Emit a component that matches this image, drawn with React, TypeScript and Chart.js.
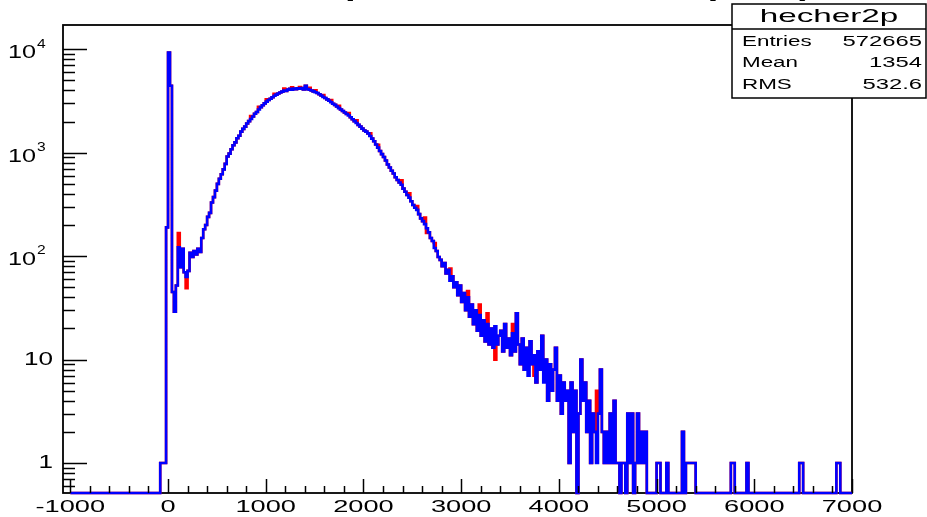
import React, { useEffect, useRef } from "react";
import { Chart, registerables } from "chart.js";

Chart.register(...registerables);

// ---------------- data ----------------
const BIN_START = -100; // first bin of blueCounts
const BIN_WIDTH = 20;
const HIST_LOW = -1000;
const HIST_HIGH = 7000;

// blue histogram (hecher2p), bins of 20 starting at -100
const blueCounts = [
  0, 1, 1, 1, 190, 9300, 4450, 45, 29, 52,
  122, 78, 118, 70, 63, 72, 108, 98, 112, 104,
  118, 110, 150, 182, 200, 240, 262, 330, 372, 430,
  500, 560, 620, 690, 780, 920, 980, 1080, 1180, 1260,
  1380, 1460, 1600, 1700, 1790, 1920, 2020, 2120, 2240, 2380,
  2480, 2620, 2760, 2880, 3000, 3120, 3240, 3330, 3440, 3560,
  3650, 3740, 3820, 3900, 4000, 3960, 4080, 4140, 4060, 4180,
  4120, 4200, 4150, 4230, 4100, 4450, 4120, 4060, 4000, 3920,
  3850, 3780, 3680, 3580, 3460, 3380, 3280, 3180, 3080, 2980,
  2900, 2800, 2700, 2620, 2530, 2450, 2370, 2290, 2200, 2110,
  2020, 1940, 1860, 1790, 1710, 1640, 1600, 1540, 1450, 1370,
  1290, 1200, 1120, 1040, 970, 910, 840, 770, 720, 670,
  630, 580, 545, 515, 490, 450, 420, 390, 368, 340,
  312, 294, 280, 255, 232, 218, 204, 186, 170, 150,
  140, 120, 112, 98, 92, 80, 86, 68, 74, 58,
  64, 50, 56, 42, 52, 36, 44, 30, 40, 26,
  34, 22, 30, 19, 27, 17, 24, 15, 22, 14,
  20, 13, 21, 14, 17, 19, 12, 22, 13, 16,
  11, 18, 12, 28, 14, 9, 16, 8, 13, 7,
  15, 9, 11, 6, 12, 8, 17, 6, 10, 4,
  9, 5, 8, 13, 4, 7, 3, 6, 4, 5,
  1, 6, 2, 5, 0, 3, 10, 4, 6, 2,
  4, 1, 3, 2, 1, 3, 8, 2, 1, 2,
  1, 3, 1, 4, 1, 1, 0, 1, 1, 0,
  3, 1, 3, 0, 1, 3, 1, 2, 1, 2,
  0,
];

// sparse far tail (same for both histograms)
const tailBins = [5000, 5020, 5100, 5260, 5300, 5320, 5340, 5360, 5380, 5760, 5780, 5920, 6460, 6480, 6840, 6860];
const tailCounts = [1, 1, 1, 2, 1, 1, 1, 1, 1, 1, 1, 1, 1, 1, 1, 1];

// red histogram: equal to blue except in these bins
const redBins = [100, 180, 840, 920, 1000, 1080, 1180, 1260, 1340, 1440, 1500, 1580, 1660, 1740, 1840, 1920, 2060, 2140, 2380, 2460, 2540, 2620, 2640, 2720, 2880, 3060, 3180, 3260, 3340, 3520, 3680, 3740, 3840, 4380];
const redCounts = [167, 49, 2260, 2780, 3280, 3720, 4180, 4300, 4320, 4250, 4020, 3620, 3240, 2840, 2420, 2060, 1540, 1190, 540, 405, 305, 236, 168, 134, 76, 46, 34, 28, 10, 22, 13, 7, 9, 5];

// axes
const X_MIN = -1075;
const X_MAX = 7000;
const Y_MIN = 0.513;
const Y_MAX = 17180;
const xTickValues = [-1000, 0, 1000, 2000, 3000, 4000, 5000, 6000, 7000];
const xTickLabels = ["-1000", "0", "1000", "2000", "3000", "4000", "5000", "6000", "7000"];
const X_MINOR_STEP = 200;
const yTickValues = [1, 10, 100, 1000, 10000];
const yTickBase = ["1", "10", "10", "10", "10"];
const yTickExp = ["", "", "2", "3", "4"];

// texts
const titleText = "Amplitude distribution (ADC)";
const statsTitle = "hecher2p";
const statsNames = ["Entries", "Mean", "RMS"];
const statsValues = ["572665", "1354", "532.6"];

// ---------------- helpers ----------------
function buildSteps(overBins: number[] | null, overCounts: number[] | null) {
  const pts: { x: number; y: number }[] = [];
  let last = 0;
  for (let x = HIST_LOW; x < HIST_HIGH; x += BIN_WIDTH) {
    let c = 0;
    const i = Math.round((x - BIN_START) / BIN_WIDTH);
    if (i >= 0 && i < blueCounts.length) c = blueCounts[i];
    const t = tailBins.indexOf(x);
    if (t >= 0) c = tailCounts[t];
    if (overBins && overCounts) {
      const o = overBins.indexOf(x);
      if (o >= 0) c = overCounts[o];
    }
    last = c > 0 ? c : Y_MIN;
    pts.push({ x, y: last });
  }
  pts.push({ x: HIST_HIGH, y: last });
  return pts;
}

const FONT = '"Liberation Sans", Arial, Helvetica, sans-serif';

function sText(
  ctx: CanvasRenderingContext2D,
  text: string,
  x: number,
  y: number,
  size: number,
  sx: number,
  align: "left" | "center" | "right",
  bold = false
) {
  ctx.save();
  ctx.font = `${bold ? "bold " : ""}${size}px ${FONT}`;
  ctx.textBaseline = "middle";
  ctx.textAlign = "left";
  const w = ctx.measureText(text).width * sx;
  const left = align === "center" ? x - w / 2 : align === "right" ? x - w : x;
  ctx.translate(left, y);
  ctx.scale(sx, 1);
  ctx.fillStyle = "#000";
  ctx.fillText(text, 0, 0);
  ctx.restore();
  return w;
}

function seg(ctx: CanvasRenderingContext2D, x1: number, y1: number, x2: number, y2: number) {
  ctx.beginPath();
  ctx.moveTo(x1, y1);
  ctx.lineTo(x2, y2);
  ctx.stroke();
}

const rootPlugin = {
  id: "rootDecor",
  beforeDraw(chart: any) {
    const { ctx, width, height } = chart;
    ctx.save();
    ctx.fillStyle = "#fff";
    ctx.fillRect(0, 0, width, height);
    ctx.restore();
  },
  beforeDatasetsDraw(chart: any) {
    const { ctx, chartArea: a } = chart;
    ctx.save();
    ctx.strokeStyle = "#000";
    ctx.lineWidth = 1.8;
    ctx.strokeRect(a.left, a.top, a.right - a.left, a.bottom - a.top);
    ctx.restore();
  },
  afterDatasetsDraw(chart: any) {
    const { ctx, chartArea: a, scales } = chart;
    const xs = scales.x;
    const ys = scales.y;
    ctx.save();
    ctx.strokeStyle = "#000";
    ctx.lineWidth = 1.5;

    // x ticks
    for (let v = xTickValues[0]; v <= xTickValues[xTickValues.length - 1]; v += X_MINOR_STEP) {
      const px = Math.round(xs.getPixelForValue(v)) + 0.5;
      const major = xTickValues.indexOf(v) >= 0;
      seg(ctx, px, a.bottom, px, a.bottom - (major ? 14 : 7));
    }
    xTickValues.forEach((v, i) => {
      sText(ctx, xTickLabels[i], xs.getPixelForValue(v), 507, 17, 1.6, "center");
    });

    // y ticks (log)
    for (let d = -1; d <= 4; d++) {
      for (let m = 1; m <= 9; m++) {
        const v = m * Math.pow(10, d);
        if (v < Y_MIN || v > Y_MAX) continue;
        const py = Math.round(ys.getPixelForValue(v)) + 0.5;
        seg(ctx, a.left, py, a.left + (m === 1 ? 24 : 12), py);
      }
    }
    yTickValues.forEach((v, i) => {
      const py = ys.getPixelForValue(v);
      if (yTickExp[i] === "") {
        sText(ctx, yTickBase[i], 53, py, 18, 1.45, "right");
      } else {
        sText(ctx, yTickBase[i], 36, py + 4, 18, 1.4, "right");
        sText(ctx, yTickExp[i], 37, py - 5, 12, 1.3, "left");
      }
    });
    ctx.restore();
  },
  afterDraw(chart: any) {
    const { ctx } = chart;
    ctx.save();
    // title (mostly above the visible area)
    ctx.font = `bold 32px ${FONT}`;
    ctx.textBaseline = "alphabetic";
    ctx.textAlign = "left";
    ctx.translate(283, -6);
    ctx.scale(1.2, 1);
    ctx.fillStyle = "#000";
    ctx.fillText(titleText, 0, 0);
    ctx.restore();

    // stats box
    ctx.save();
    const bx = 732, by = 4, bw = 194, bh = 94;
    ctx.fillStyle = "#fff";
    ctx.fillRect(bx, by, bw, bh);
    ctx.strokeStyle = "#000";
    ctx.lineWidth = 1.5;
    ctx.strokeRect(bx, by, bw, bh);
    seg(ctx, bx, 29, bx + bw, 29);
    sText(ctx, statsTitle, bx + bw / 2, 16.5, 19, 1.75, "center");
    const rowsY = [42, 63.5, 85];
    statsNames.forEach((n, i) => {
      sText(ctx, n, 742, rowsY[i], 14, 1.6, "left");
      sText(ctx, statsValues[i], 922, rowsY[i], 14, 1.7, "right");
    });
    ctx.restore();
  },
};

export default function App() {
  const ref = useRef<HTMLCanvasElement>(null);
  useEffect(() => {
    if (!ref.current) return;
    const chart = new Chart(ref.current, {
      type: "line",
      data: {
        datasets: [
          {
            label: "blue",
            data: buildSteps(null, null),
            borderColor: "#0000ff",
            borderWidth: 2.6,
            pointRadius: 0,
            stepped: true,
            fill: false,
            tension: 0,
            clip: false,
          },
          {
            label: "red",
            data: buildSteps(redBins, redCounts),
            borderColor: "#ff0000",
            borderWidth: 2.6,
            pointRadius: 0,
            stepped: true,
            fill: false,
            tension: 0,
            clip: false,
          },
        ],
      },
      options: {
        animation: false,
        responsive: false,
        devicePixelRatio: 1,
        events: [],
        layout: { padding: { left: 0, right: 75, top: 25, bottom: 0 } },
        plugins: { legend: { display: false }, tooltip: { enabled: false }, title: { display: false } },
        scales: {
          x: {
            type: "linear",
            min: X_MIN,
            max: X_MAX,
            grid: { display: false },
            border: { display: false },
            ticks: { display: false },
            afterFit: (s: any) => {
              s.height = 24;
            },
          },
          y: {
            type: "logarithmic",
            min: Y_MIN,
            max: Y_MAX,
            grid: { display: false },
            border: { display: false },
            ticks: { display: false },
            afterFit: (s: any) => {
              s.width = 63;
            },
          },
        },
      } as any,
      plugins: [rootPlugin],
    });
    return () => chart.destroy();
  }, []);
  return (
    <div style={{ position: "absolute", left: 0, top: 0, width: 927, height: 517, background: "#fff" }}>
      <canvas ref={ref} width={927} height={517} style={{ display: "block", width: 927, height: 517 }} />
    </div>
  );
}
